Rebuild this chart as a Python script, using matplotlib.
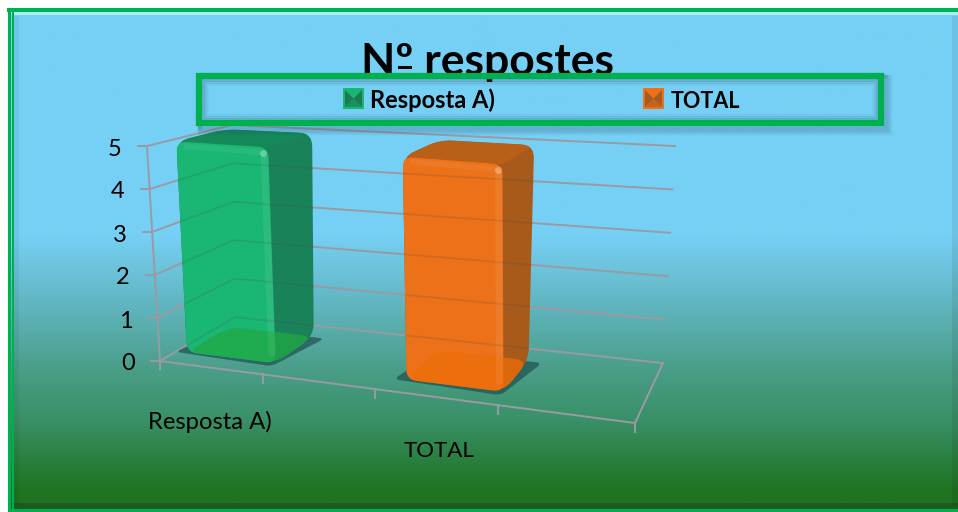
import matplotlib
matplotlib.use("Agg")
import matplotlib.pyplot as plt
import numpy as np
from matplotlib.colors import LinearSegmentedColormap
from matplotlib.patches import PathPatch, Polygon, Rectangle
from matplotlib.path import Path

plt.rcParams["font.family"] = ["Lato", "DejaVu Sans"]

# chart data
categories = ["Resposta A)", "TOTAL"]
values = [5, 5]
y_ticks = [0, 1, 2, 3, 4, 5]
title = "Nº respostes"

front_colors = ["#1AB674", "#EC7119"]
side_colors = ["#1A8259", "#A85A1B"]
top_colors = ["#15895A", "#B85F18"]
floor_colors = ["#22A845", "#EE6E08"]
swatch_dark = ["#1A7A52", "#A85A20"]

# pixel position of the chart box floor and of the top of each corner
floor_px = np.array([[160, 361], [635, 423], [663, 363], [235, 317]], float)
top_vec = np.array([[-13, -215], [0, -238], [12, -217], [-3, -192]], float)
N_UNITS = 4.0
Z_MAX = 5.0


def homography(dst):
    src = [(0, 0), (1, 0), (1, 1), (0, 1)]
    A, b = [], []
    for (s, t), (x, y) in zip(src, dst):
        A.append([s, t, 1, 0, 0, 0, -s * x, -t * x])
        A.append([0, 0, 0, s, t, 1, -s * y, -t * y])
        b += [x, y]
    return np.append(np.linalg.solve(np.array(A), np.array(b)), 1).reshape(3, 3)


H = homography(floor_px)


def project(u, v, z):
    # u = position along the categories, v = depth, z = value
    s = u / N_UNITS
    p = H @ np.array([s, v, 1.0])
    base = p[:2] / p[2]
    up = ((1 - s) * (1 - v) * top_vec[0] + s * (1 - v) * top_vec[1]
          + s * v * top_vec[2] + (1 - s) * v * top_vec[3])
    return base + up * z / Z_MAX


def rounded(points, r):
    # closed path with the corners cut by quadratic curves
    pts = [np.array(p) for p in points]
    verts, codes = [], []
    n = len(pts)
    for i in range(n):
        prev, cur, nxt = pts[i - 1], pts[i], pts[(i + 1) % n]
        a = cur + (prev - cur) * min(r / np.linalg.norm(prev - cur), 0.45)
        b = cur + (nxt - cur) * min(r / np.linalg.norm(nxt - cur), 0.45)
        verts.append(a)
        codes.append(Path.MOVETO if i == 0 else Path.LINETO)
        verts += [cur, b]
        codes += [Path.CURVE3, Path.CURVE3]
    verts.append(verts[0])
    codes.append(Path.CLOSEPOLY)
    return Path(verts, codes)


fig = plt.figure(figsize=(9.58, 5.12), dpi=100, facecolor="white")
ax = fig.add_axes([0, 0, 1, 1])

# background gradient
stops = [(15, "#76D0F5"), (235, "#76D0F5"), (300, "#63B7C4"), (370, "#4A9E88"),
         (420, "#3A9068"), (460, "#2A8040"), (490, "#1F7522"), (509, "#1F7322")]
cmap = LinearSegmentedColormap.from_list(
    "bg", [((y - 15) / (509 - 15), c) for y, c in stops])
ax.imshow(np.linspace(0, 1, 500).reshape(-1, 1), cmap=cmap, aspect="auto",
          extent=[8, 958, 509, 15], zorder=0)

# chart area bevels and border
ax.add_patch(Rectangle((8, 12), 950, 3, fc="#A5F2FA", ec="none", zorder=1))
ax.add_patch(Rectangle((8, 503), 950, 6, fc="#1E4A20", ec="none", alpha=0.6, zorder=1))
ax.add_patch(Rectangle((952, 16), 6, 490, fc="#000000", ec="none", alpha=0.07, zorder=1))
ax.add_patch(Rectangle((14, 16), 5, 490, fc="#000000", ec="none", alpha=0.05, zorder=1))
ax.add_patch(Rectangle((7, 8), 951, 4, fc="#00B050", ec="none", zorder=2))
ax.add_patch(Rectangle((8, 8), 3.5, 504, fc="#00B050", ec="none", zorder=2))
ax.add_patch(Rectangle((12.5, 12), 1.5, 497, fc="#00B050", ec="none", zorder=2))
ax.add_patch(Rectangle((8, 509), 950, 3, fc="#00B050", ec="none", zorder=2))

# walls, floor and ticks
grid = "#9A9AA2"
grid_lines = []
for z in y_ticks:
    line = np.array([project(0, 0, z), project(0, 1, z), project(N_UNITS, 1, z)])
    grid_lines.append(line)
    ax.plot(line[:, 0], line[:, 1], color=grid, lw=1.4, zorder=3)
    p = project(0, 0, z)
    ax.plot([p[0] - 9, p[0]], [p[1], p[1]], color=grid, lw=1.4, zorder=3)
    ax.text(p[0] - 32, p[1] + 3, str(z), fontsize=17, ha="center", va="center",
            color="black", zorder=8)
wall = np.array([project(0, 0, 0), project(0, 0, Z_MAX)])
ax.plot(wall[:, 0], wall[:, 1], color=grid, lw=1.4, zorder=3)
floor = np.array([project(0, 0, 0), project(N_UNITS, 0, 0), project(N_UNITS, 1, 0)])
ax.plot(floor[:, 0], floor[:, 1], color=grid, lw=1.4, zorder=3)
for u in range(int(N_UNITS) + 1):
    p = project(u, 0, 0)
    ax.plot([p[0], p[0]], [p[1], p[1] + 9], color=grid, lw=1.4, zorder=3)

# bars
V0, V1 = 0.21, 0.78
bar_start = [0.1, 2.16]
bar_width = [0.88, 0.8]
label_size = [17.2, 16]
label_shift = [1, 4]
for i, (name, val) in enumerate(zip(categories, values)):
    u0 = bar_start[i]
    u1 = u0 + bar_width[i]
    fl0, fr0, br0, bl0 = [project(u, v, 0) for u, v in
                          [(u0, V0), (u1, V0), (u1, V1), (u0, V1)]]
    fl1, fr1, br1, bl1 = [project(u, v, val) for u, v in
                          [(u0, V0), (u1, V0), (u1, V1), (u0, V1)]]
    shadow = [project(u, v, 0) for u, v in [(u0 - 0.1, V0 - 0.02), (u1, V0 - 0.06),
                                            (u1 + 0.12, V1 - 0.02), (u0, V1)]]
    ax.add_patch(PathPatch(rounded(shadow, 6), fc="#1F4F4F", ec="none", alpha=0.7, zorder=4))

    # silhouette in the side colour, then top and front on it
    body = PathPatch(rounded([fl0, fr0, br0, br1, bl1, fl1], 13), fc=side_colors[i],
                     ec="none", zorder=5)
    ax.add_patch(body)
    top = ax.add_patch(Polygon([fl1, fr1, br1, bl1], fc=top_colors[i], ec="none", zorder=5.1))
    top.set_clip_path(body)
    ax.add_patch(PathPatch(rounded([fl0, fr0, fr1, fl1], 10), fc=front_colors[i], ec="none",
                           zorder=5.2))
    bottom = ax.add_patch(PathPatch(rounded([fl0, fr0, br0, bl0], 14), fc=floor_colors[i],
                                    ec="none", alpha=0.75, zorder=5.3))
    bottom.set_clip_path(body)
    for line in grid_lines:
        gl, = ax.plot(line[:, 0], line[:, 1], color="#444444", lw=1.3, alpha=0.16, zorder=5.4)
        gl.set_clip_path(body)

    # light along the front right edge and top corner
    ax.plot([fr0[0] - 4, fr1[0] - 4], [fr0[1] - 10, fr1[1] + 10], color="white",
            lw=5, alpha=0.07, zorder=7, solid_capstyle="round")
    ax.plot([fl1[0] + 10, fr1[0] - 8], [fl1[1] + 5, fr1[1] + 5], color="white",
            lw=4, alpha=0.06, zorder=7, solid_capstyle="round")
    ax.plot([fr1[0] - 5], [fr1[1] + 6], "o", ms=5, color="white", alpha=0.3,
            mec="none", zorder=7)

    # category label under the front edge
    p = project(2 * i + 0.52, 0, 0)
    ax.text(p[0] - 3 + label_shift[i], p[1] + 54, name, fontsize=label_size[i],
            ha="center", va="center", color="black", zorder=8)

# title, drawn under the legend frame
ax.text(488, 75, title, fontsize=32, fontweight="bold", ha="center", va="baseline",
        color="black", zorder=8)
# the ordinal sign is underlined in the original font
ax.add_patch(Rectangle((398, 66), 14, 2.5, fc="black", ec="none", zorder=8))

# legend, soft shadow first
for grow, a in [(0, 0.12), (2, 0.12), (4, 0.1), (6, 0.08)]:
    ax.add_patch(Rectangle((200, 77), 684 + grow, 50 + grow, fc="none", ec="#24485A",
                           lw=3, alpha=a, zorder=8))
for shrink, a in [(4, 0.2), (6, 0.12), (8, 0.06)]:
    ax.add_patch(Rectangle((199.5 + shrink, 76 + shrink), 682 - 2 * shrink, 47 - 2 * shrink,
                           fc="none", ec="#24485A", lw=2, alpha=a, zorder=8))
ax.add_patch(Rectangle((199.5, 76), 682, 47, fc="none", ec="#00B050", lw=4.5, zorder=9))
swatch_x = [343, 643]
text_x = [370, 671]
legend_size = [17, 15.5]
for i, name in enumerate(categories):
    x, y, w, h = swatch_x[i], 88, 21, 21
    ax.add_patch(Rectangle((x, y), w, h, fc=front_colors[i], ec="none", zorder=9))
    cx, cy = x + w / 2, y + h / 2
    ax.add_patch(Polygon([(x + 2, y + 2), (cx, cy), (x + 2, y + h - 2)], fc=swatch_dark[i], ec="none", zorder=10))
    ax.add_patch(Polygon([(x + w - 2, y + 2), (cx, cy), (x + w - 2, y + h - 2)], fc=swatch_dark[i], ec="none", zorder=10))
    ax.add_patch(Polygon([(x + 2, y + h - 2), (cx, cy), (x + w - 2, y + h - 2)], fc=swatch_dark[i], ec="none", alpha=0.6, zorder=10))
    ax.text(text_x[i], 108, name, fontsize=legend_size[i], fontweight="bold", ha="left",
            va="baseline", color="black", zorder=10)

ax.set_xlim(0, 958)
ax.set_ylim(512, 0)
ax.axis("off")
fig.savefig("out.png", dpi=100, facecolor="white")
